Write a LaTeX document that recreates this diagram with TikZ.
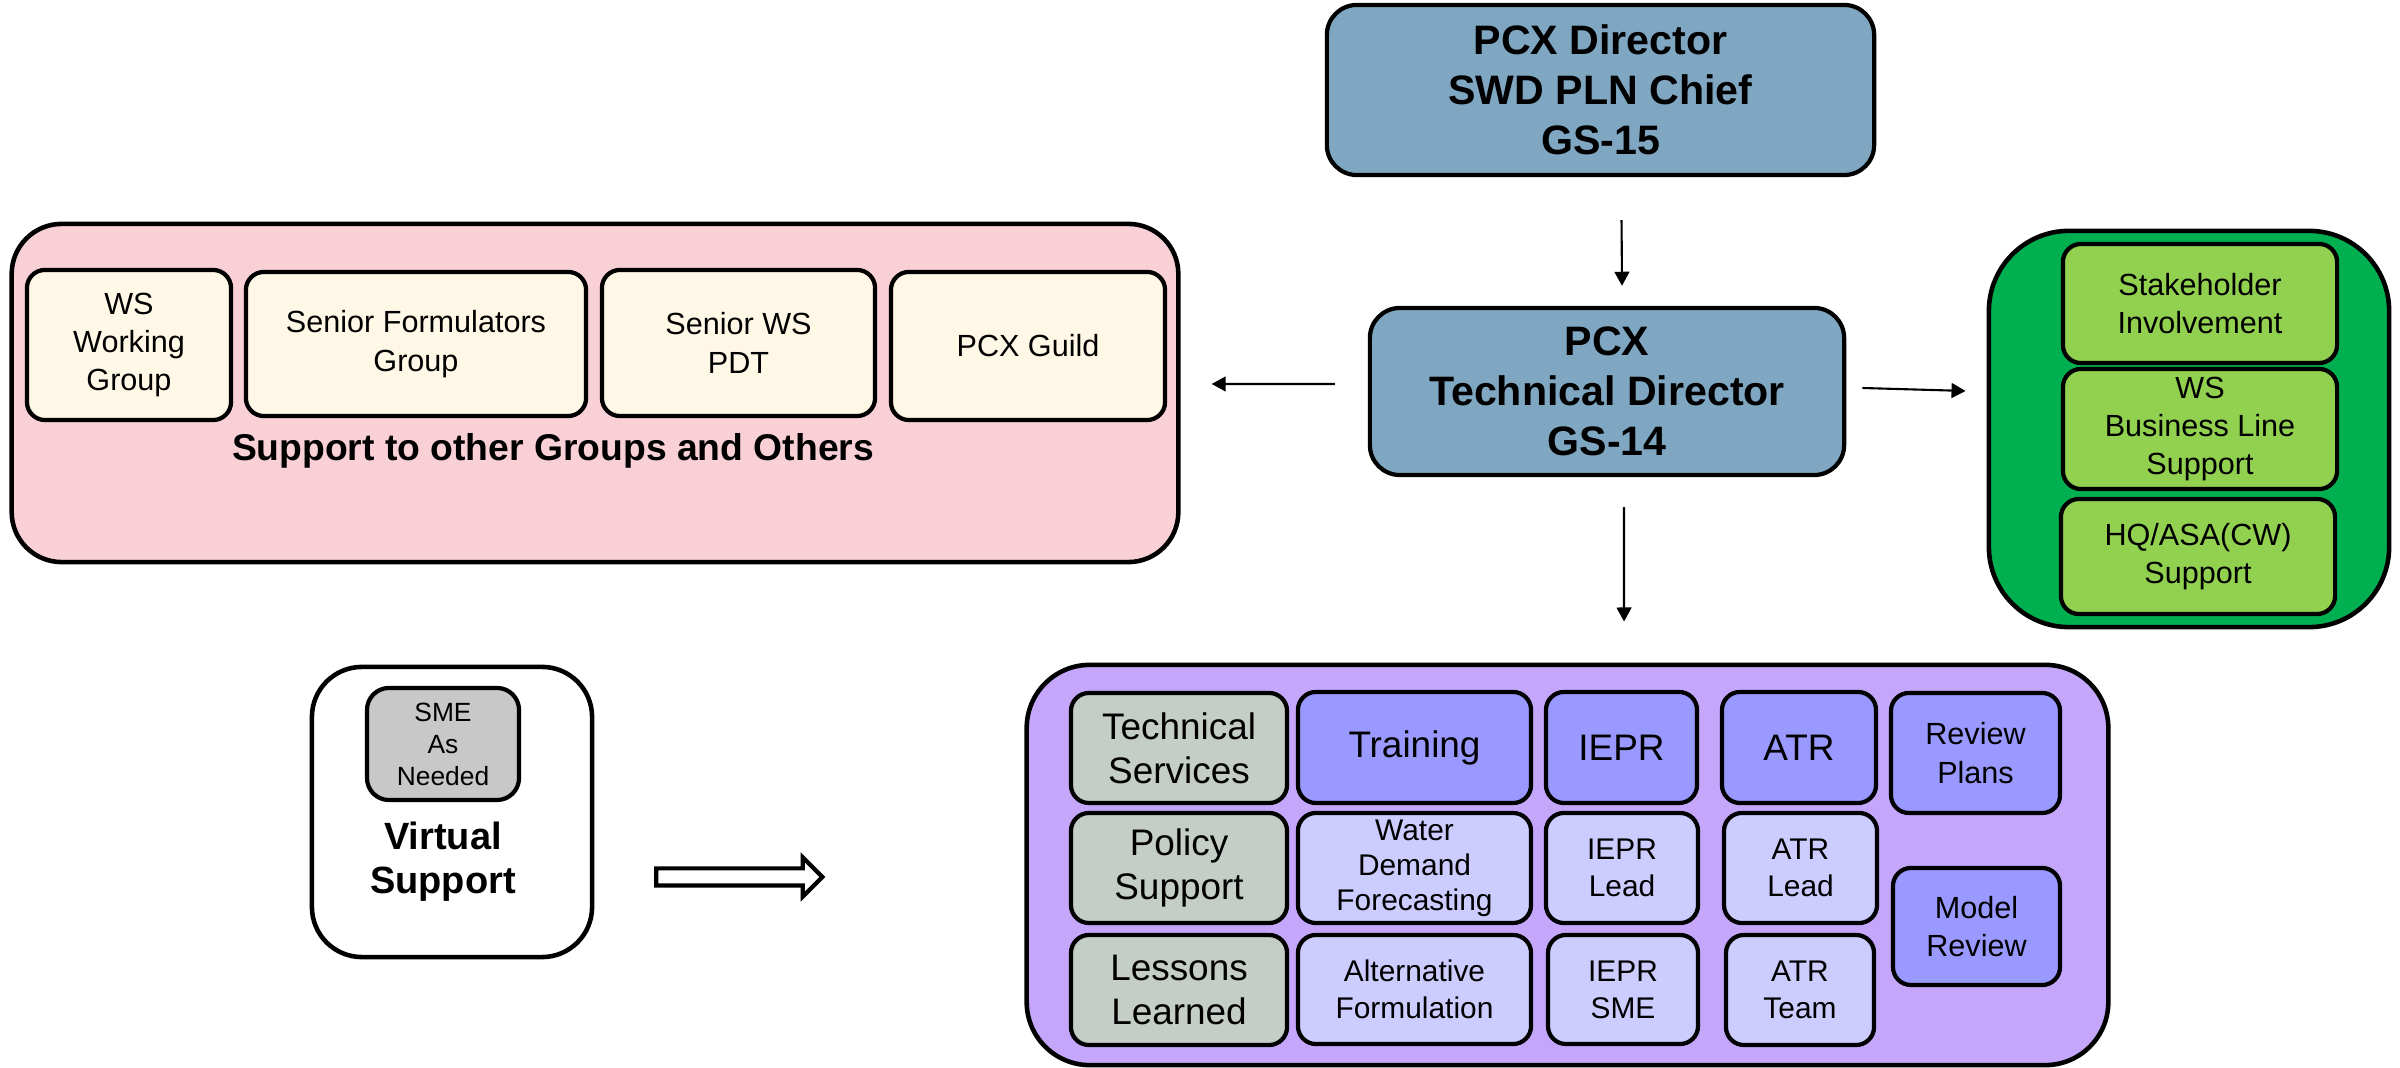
\documentclass[tikz,border=0pt]{standalone}
\usepackage{fontspec}
\setmainfont{Liberation Sans}
\usepackage{tikz}
\usetikzlibrary{arrows.meta, shapes.arrows}

\definecolor{headblue}{HTML}{7FA7C2}
\definecolor{grppink}{HTML}{F8D0D5}
\definecolor{cream}{HTML}{FFF8E6}
\definecolor{grpgreen}{HTML}{00B050}
\definecolor{litegreen}{HTML}{92D050}
\definecolor{grppurple}{HTML}{C4A7FB}
\definecolor{darkviolet}{HTML}{9999FF}
\definecolor{liteviolet}{HTML}{CCCCFF}
\definecolor{greyteal}{HTML}{C5CDC7}
\definecolor{smegrey}{HTML}{C8C8C8}

\begin{document}
\begin{tikzpicture}[x=0.01cm, y=-0.01cm, >={Triangle[length=4pt, width=4.2pt]},
    box/.style={draw, line width=1.2pt, rounded corners=0.18cm, align=center, inner sep=0pt},
    head/.style={box, fill=headblue, rounded corners=0.3cm, font=\fontsize{11.7}{14.2}\selectfont\bfseries},
    grp/.style={box, line width=1.3pt},
    small/.style={box, font=\fontsize{8.7}{10.9}\selectfont},
    big/.style={box, font=\fontsize{10.5}{12.6}\selectfont},
    lite/.style={box, fill=liteviolet, font=\fontsize{8.5}{10.5}\selectfont}]
    \useasboundingbox (0,0) rectangle (2400,1068);

    % directors
    \node [head, minimum width=5.47cm, minimum height=1.70cm] (dir) at (1600.5,90) {PCX Director\\SWD PLN Chief\\GS-15};
    \node [head, minimum width=4.74cm, minimum height=1.67cm] (tech) at (1607,391.5) {PCX\\Technical Director\\GS-14};

    % support to other groups
    \node [grp, fill=grppink, rounded corners=0.5cm, minimum width=11.66cm, minimum height=3.38cm] (pink) at (595,393) {};
    \node [small, fill=cream, minimum width=2.04cm, minimum height=1.50cm] (wsw) at (129,345) {WS\\Working\\Group};
    \node [small, fill=cream, minimum width=3.40cm, minimum height=1.44cm] (sfg) at (416,344) {Senior Formulators\\Group};
    \node [small, fill=cream, minimum width=2.73cm, minimum height=1.46cm] (swp) at (738.5,343) {Senior WS\\PDT};
    \node [small, fill=cream, minimum width=2.74cm, minimum height=1.48cm] (guild) at (1028,346) {PCX Guild};
    \node [font=\fontsize{10.6}{12.7}\selectfont\bfseries] (supp) at (553,451) {Support to other Groups and Others};

    % business line
    \node [grp, fill=grpgreen, rounded corners=0.8cm, minimum width=4.00cm, minimum height=3.96cm] (green) at (2189,429) {};
    \node [small, fill=litegreen, minimum width=2.74cm, minimum height=1.19cm] (stake) at (2200,303.5) {Stakeholder\\Involvement};
    \node [small, fill=litegreen, minimum width=2.74cm, minimum height=1.20cm] (wsbl) at (2200,429) {WS\\Business Line\\Support};
    \node [small, fill=litegreen, minimum width=2.74cm, minimum height=1.15cm] (hq) at (2198,556.5) {HQ/ASA(CW)\\Support};

    % virtual support
    \node [grp, rounded corners=0.5cm, minimum width=2.80cm, minimum height=2.90cm] (virt) at (452,812) {};
    \node [box, fill=smegrey, rounded corners=0.22cm, minimum width=1.52cm, minimum height=1.12cm,
        font=\fontsize{7.5}{9.1}\selectfont] (sme) at (443,744) {SME\\As\\Needed};
    \node [align=center, inner sep=0pt, font=\fontsize{10.8}{12.5}\selectfont\bfseries] (virtlbl) at (443,862) {Virtual\\Support};
    \node [single arrow, draw, line width=1.2pt, fill=white, inner xsep=0pt, inner ysep=0.065cm,
        minimum height=1.66cm, single arrow head extend=0.11cm] (vsarrow) at (735,877) {};

    % technical services
    \node [grp, fill=grppurple, rounded corners=0.63cm, minimum width=10.81cm, minimum height=4.00cm] (purple) at (1567.5,865) {};
    \node [big, fill=greyteal, minimum width=2.16cm, minimum height=1.10cm] (ts) at (1179,748) {Technical\\Services};
    \node [big, fill=greyteal, minimum width=2.16cm, minimum height=1.10cm] (ps) at (1179,868) {Policy\\Support};
    \node [big, fill=greyteal, minimum width=2.16cm, minimum height=1.10cm] (ll) at (1179,990) {Lessons\\Learned};
    \node [big, fill=darkviolet, minimum width=2.33cm, minimum height=1.11cm] (train) at (1414.5,747.5) {Training};
    \node [big, fill=darkviolet, minimum width=1.51cm, minimum height=1.11cm] (iepr) at (1621.5,747.5) {IEPR};
    \node [big, fill=darkviolet, minimum width=1.54cm, minimum height=1.11cm] (atr) at (1799,747.5) {ATR};
    \node [small, fill=darkviolet, minimum width=1.69cm, minimum height=1.20cm] (rp) at (1975.5,753) {Review\\Plans};
    \node [small, fill=darkviolet, minimum width=1.67cm, minimum height=1.17cm] (mr) at (1976.5,926.5) {Model\\Review};
    \node [lite, minimum width=2.33cm, minimum height=1.10cm, font=\fontsize{8.5}{10}\selectfont] (wdf) at (1414.5,868) {Water\\Demand\\Forecasting};
    \node [lite, minimum width=1.52cm, minimum height=1.10cm] (ieprl) at (1622,868) {IEPR\\Lead};
    \node [lite, minimum width=1.53cm, minimum height=1.10cm] (atrl) at (1800.5,868) {ATR\\Lead};
    \node [lite, minimum width=2.33cm, minimum height=1.09cm] (alt) at (1414.5,989.5) {Alternative\\Formulation};
    \node [lite, minimum width=1.50cm, minimum height=1.09cm] (ieprs) at (1623,989.5) {IEPR\\SME};
    \node [lite, minimum width=1.48cm, minimum height=1.10cm] (atrt) at (1800,990) {ATR\\Team};

    % connectors
    \draw [->, line width=0.6pt] ([xshift=0.21cm, yshift=-0.43cm]dir.south) -- ([xshift=0.15cm, yshift=0.2cm]tech.north);
    \draw [->, line width=0.6pt] ([xshift=-0.33cm, yshift=0.075cm]tech.west) -- ([xshift=0.31cm, yshift=0.09cm]pink.east);
    \draw [->, line width=0.6pt] ([xshift=0.16cm, yshift=0.035cm]tech.east) -- ([xshift=-0.21cm, yshift=0.38cm]green.west);
    \draw [->, line width=0.6pt] ([xshift=0.17cm, yshift=-0.3cm]tech.south) -- ([xshift=0.565cm, yshift=0.41cm]purple.north);
\end{tikzpicture}
\end{document}
